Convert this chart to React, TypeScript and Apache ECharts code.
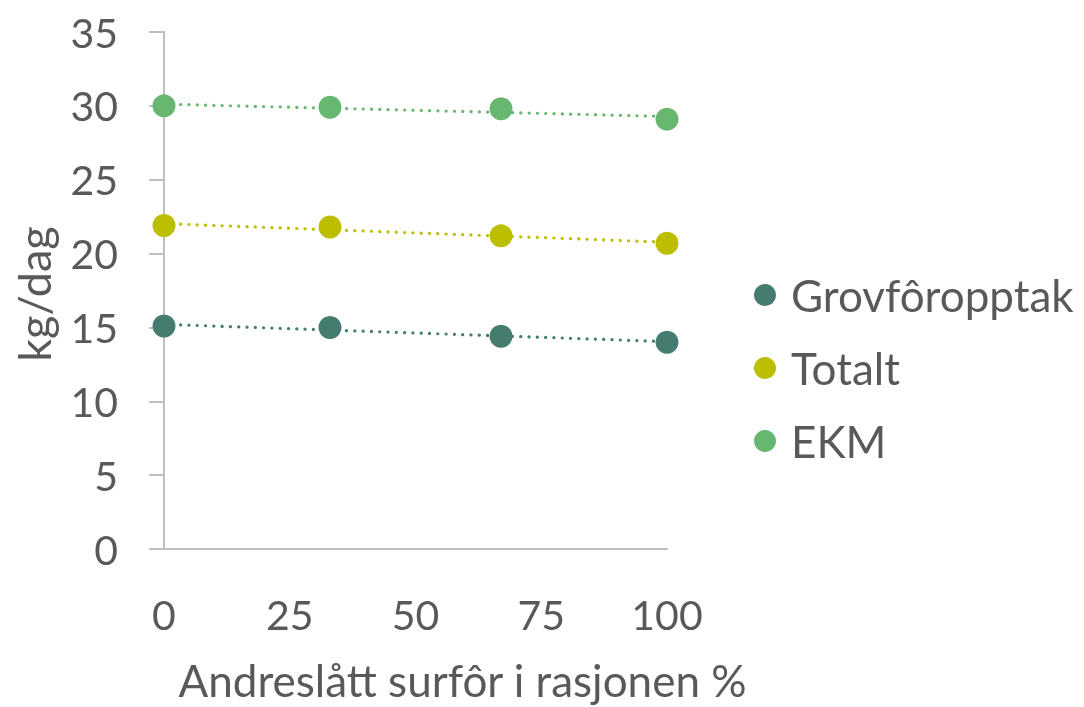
import React, { useEffect, useRef } from "react";
import * as echarts from "echarts";

const xValues = [0, 33, 67, 100];
const grovfor = [15.1, 15.0, 14.4, 14.0];
const totalt = [21.9, 21.8, 21.2, 20.7];
const ekm = [30.0, 29.9, 29.8, 29.1];
const seriesNames = ["Grovfôropptak", "Totalt", "EKM"];
const colors = ["#457C70", "#BBBF00", "#67B771"];
const xTicks = [0, 25, 50, 75, 100];

function trend(xs: number[], ys: number[]) {
  const n = xs.length;
  const mx = xs.reduce((a, b) => a + b, 0) / n;
  const my = ys.reduce((a, b) => a + b, 0) / n;
  let sxy = 0, sxx = 0;
  for (let i = 0; i < n; i++) {
    sxy += (xs[i] - mx) * (ys[i] - my);
    sxx += (xs[i] - mx) * (xs[i] - mx);
  }
  const b = sxy / sxx;
  const a = my - b * mx;
  const x0 = Math.min(...xs), x1 = Math.max(...xs);
  return [[x0, a + b * x0], [x1, a + b * x1]];
}

export default function App() {
  const ref = useRef<HTMLDivElement>(null);
  useEffect(() => {
    if (!ref.current) return;
    const chart = echarts.init(ref.current, null, { renderer: "svg" });
    const font = "Lato, 'Liberation Sans', sans-serif";
    const datasets = [grovfor, totalt, ekm];
    const series: any[] = [];
    datasets.forEach((ys, i) => {
      series.push({
        name: seriesNames[i] + " trend",
        type: "line",
        data: trend(xValues, ys),
        symbol: "none",
        silent: true,
        z: 2,
        lineStyle: { color: colors[i], width: 3.2, type: [0.1, 8.2], cap: "round" },
      });
    });
    datasets.forEach((ys, i) => {
      series.push({
        name: seriesNames[i],
        type: "scatter",
        data: xValues.map((x, j) => [x, ys[j]]),
        symbol: "circle",
        symbolSize: 23,
        z: 5,
        itemStyle: { color: colors[i], opacity: 1 },
      });
    });
    chart.setOption({
      animation: false,
      textStyle: { fontFamily: font },
      grid: { left: 164, right: 417, top: 32, bottom: 151, containLabel: false },
      legend: {
        data: seriesNames,
        orient: "vertical",
        left: 749,
        top: 263,
        icon: "circle",
        itemWidth: 22,
        itemHeight: 22,
        itemGap: 19,
        textStyle: { fontSize: 44, color: "#595959", fontFamily: font, padding: [0, 0, 0, 10], lineHeight: 54 },
      },
      xAxis: {
        type: "value",
        min: 0,
        max: 100,
        interval: 25,
        name: "Andreslått surfôr i rasjonen %",
        nameLocation: "middle",
        nameGap: 109,
        nameTextStyle: { fontSize: 44, color: "#595959", fontFamily: font, padding: [0, 0, 0, 94] },
        axisLine: { show: true, lineStyle: { color: "#BFBFBF", width: 2 } },
        axisTick: { show: false },
        splitLine: { show: false },
        axisLabel: {
          fontSize: 41,
          color: "#595959",
          fontFamily: font,
          margin: 45,
          formatter: (v: number) => (xTicks.includes(v) ? String(v) : ""),
        },
      },
      yAxis: {
        type: "value",
        min: 0,
        max: 35,
        interval: 5,
        name: "kg/dag",
        nameLocation: "middle",
        nameGap: 108,
        nameRotate: 90,
        nameTextStyle: { fontSize: 45, color: "#595959", fontFamily: font, padding: [0, 7, 0, 0] },
        axisLine: { show: true, lineStyle: { color: "#BFBFBF", width: 2 } },
        axisTick: { show: true, inside: false, length: 15, lineStyle: { color: "#BFBFBF", width: 2 } },
        splitLine: { show: false },
        axisLabel: { fontSize: 41, color: "#595959", fontFamily: font, margin: 46 },
      },
      series,
    });
    return () => chart.dispose();
  }, []);
  return <div ref={ref} style={{ position: "fixed", left: 0, top: 0, width: 1084, height: 707 }} />;
}
